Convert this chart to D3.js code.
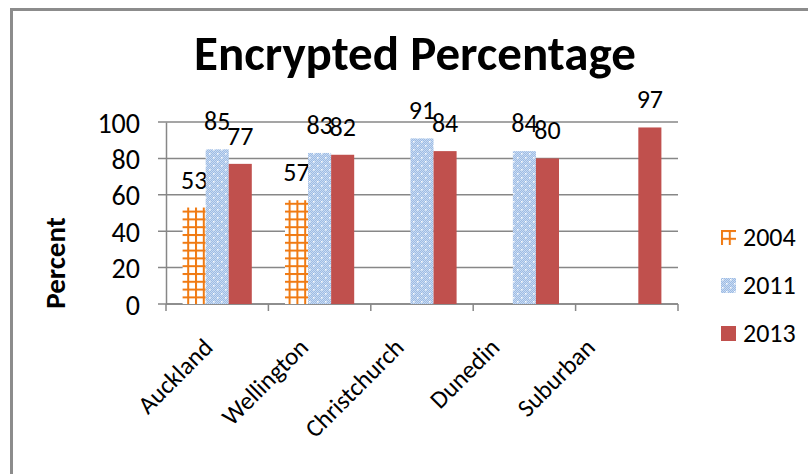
<!DOCTYPE html>
<html>
<head>
<meta charset="utf-8">
<script src="https://cdn.jsdelivr.net/npm/d3@7"></script>
<style>
  body { margin: 0; background: #fff; }
  text { font-family: Carlito, Lato, "Open Sans", sans-serif; fill: #000; }
</style>
</head>
<body>
<div id="chart"></div>
<script>
const width = 808, height = 474;

// data
const cities = ["Auckland", "Wellington", "Christchurch", "Dunedin", "Suburban"];
const years = ["2004", "2011", "2013"];
const values2004 = [53, 57, null, null, null];
const values2011 = [85, 83, 91, 84, null];
const values2013 = [77, 82, 84, 80, 97];
const yTicks = [0, 20, 40, 60, 80, 100];

const series = [values2004, values2011, values2013];

const svg = d3.select("#chart").append("svg")
    .attr("width", width)
    .attr("height", height);

// patterns for fills
const defs = svg.append("defs");
const grid = defs.append("pattern")
    .attr("id", "p2004")
    .attr("patternUnits", "userSpaceOnUse")
    .attr("width", 7.8).attr("height", 7.8);
grid.append("rect").attr("width", 7.8).attr("height", 7.8).attr("fill", "#fff");
grid.append("rect").attr("x", 0).attr("y", 0).attr("width", 2).attr("height", 7.8).attr("fill", "#f07a12");
grid.append("rect").attr("x", 0).attr("y", 0).attr("width", 7.8).attr("height", 2).attr("fill", "#f07a12");

const dots = defs.append("pattern")
    .attr("id", "p2011")
    .attr("patternUnits", "userSpaceOnUse")
    .attr("width", 8).attr("height", 8);
dots.append("rect").attr("width", 8).attr("height", 8).attr("fill", "#9dbbe4");
for (let i = 0; i < 8; i++) {
  for (let j = 0; j < 8; j++) {
    if ((i + j) % 2 === 0) {
      dots.append("rect").attr("x", i).attr("y", j).attr("width", 1).attr("height", 1)
          .attr("fill", "#c9dbf2");
    }
  }
}
dots.append("rect").attr("x", 1).attr("y", 1).attr("width", 1.5).attr("height", 1.5).attr("fill", "#fff");
dots.append("rect").attr("x", 5).attr("y", 5).attr("width", 1.5).attr("height", 1.5).attr("fill", "#fff");

const fills = ["url(#p2004)", "url(#p2011)", "#c0504d"];

// frame
svg.append("path")
    .attr("d", "M11.5," + height + "V9.5H" + width)
    .attr("fill", "none")
    .attr("stroke", "#8c8c8c")
    .attr("stroke-width", 3);

// scales
const x = d3.scaleBand()
    .domain(cities)
    .range([166, 678])
    .paddingInner(0)
    .paddingOuter(0);

const xSub = d3.scaleBand()
    .domain(years)
    .range([0, x.bandwidth()])
    .paddingInner(0)
    .paddingOuter(0.72);

const y = d3.scaleLinear()
    .domain([0, 100])
    .range([304, 122]);

// gridlines
svg.append("g")
    .selectAll("line")
    .data(yTicks)
    .enter()
    .append("line")
    .attr("x1", 158)
    .attr("x2", 678)
    .attr("y1", d => y(d))
    .attr("y2", d => y(d))
    .attr("stroke", "#878787")
    .attr("stroke-width", 1.5);

// y axis
const yAxis = svg.append("g")
    .attr("transform", "translate(166,0)")
    .call(d3.axisLeft(y).tickValues(yTicks).tickSize(0).tickPadding(26));
yAxis.select(".domain").attr("stroke", "#878787").attr("stroke-width", 1.5);
yAxis.selectAll("text")
    .style("font-size", "28px")
    .attr("dy", "0.36em");

// x axis
const xAxis = svg.append("g")
    .attr("transform", "translate(0,304)");
xAxis.append("line")
    .attr("x1", 166).attr("x2", 678)
    .attr("stroke", "#878787").attr("stroke-width", 1.5);
xAxis.selectAll("line.tick")
    .data(cities.concat([null]))
    .enter()
    .append("line")
    .attr("class", "tick")
    .attr("x1", (d, i) => 166 + i * x.step())
    .attr("x2", (d, i) => 166 + i * x.step())
    .attr("y1", 0).attr("y2", 7)
    .attr("stroke", "#878787").attr("stroke-width", 1.5);
// rotated labels drift slightly left of the band centres, as in the original
xAxis.selectAll("text")
    .data(cities)
    .enter()
    .append("text")
    .attr("transform", (d, i) => "translate(" + (x(d) + x.bandwidth() / 2 - 3 - 6.8 * i) + ",45) rotate(-45)")
    .attr("text-anchor", "end")
    .style("font-size", "25px")
    .text(d => d);

// bars
const groups = svg.append("g")
    .selectAll("g")
    .data(series)
    .enter()
    .append("g")
    .attr("fill", (d, i) => fills[i]);

groups.each(function (vals, si) {
  const rows = cities.map((c, ci) => ({ city: c, value: vals[ci], year: years[si] }))
      .filter(d => d.value !== null);
  d3.select(this).selectAll("rect")
      .data(rows)
      .enter()
      .append("rect")
      .attr("x", d => x(d.city) + xSub(d.year))
      .attr("y", d => y(d.value))
      .attr("width", xSub.bandwidth())
      .attr("height", d => y(0) - y(d.value));
  d3.select(this).selectAll("text")
      .data(rows)
      .enter()
      .append("text")
      .attr("x", d => x(d.city) + xSub(d.year) + xSub.bandwidth() / 2)
      .attr("y", d => y(d.value) - 19)
      .attr("text-anchor", "middle")
      .attr("fill", "#000")
      .style("font-size", "26px")
      .text(d => d.value);
});

// title
svg.append("text")
    .attr("x", 415)
    .attr("y", 70)
    .attr("text-anchor", "middle")
    .style("font-size", "49px")
    .style("font-weight", "bold")
    .text("Encrypted Percentage");

// y axis title
svg.append("text")
    .attr("transform", "translate(65,263) rotate(-90)")
    .attr("text-anchor", "middle")
    .style("font-size", "29px")
    .style("font-weight", "bold")
    .text("Percent");

// legend
const legend = svg.append("g")
    .selectAll("g")
    .data(years)
    .enter()
    .append("g")
    .attr("transform", (d, i) => "translate(721," + (230 + i * 48) + ")");
legend.append("rect")
    .attr("width", 15).attr("height", 15)
    .attr("fill", (d, i) => fills[i]);
legend.append("text")
    .attr("x", 22)
    .attr("y", 16)
    .style("font-size", "26px")
    .text(d => d);
</script>
</body>
</html>
